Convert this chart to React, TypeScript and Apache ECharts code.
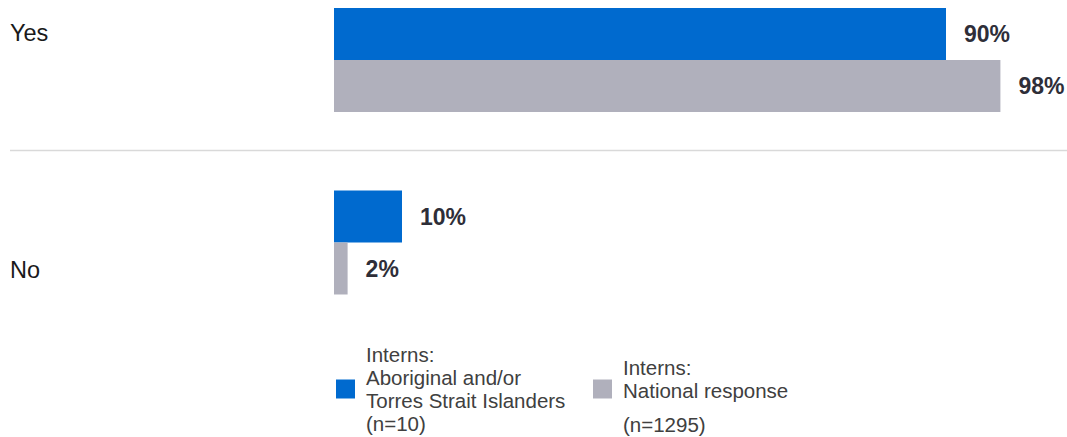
import React, { useEffect, useRef } from "react";
import * as echarts from "echarts";

const categories = ["Yes", "No"];
const seriesKeys = ["Aboriginal", "National"];
const aboriginalValues = [90, 10];
const nationalValues = [98, 2];
const legendTexts: Record<string, string> = {
  Aboriginal: "{a|Interns:}\n{a|Aboriginal and/or}\n{a|Torres Strait Islanders}\n{a|(n=10)}",
  National: "{t| }\n{a|Interns:}\n{a|National response}\n{s| }\n{a|(n=1295)}",
};

const BLUE = "#006ACF";
const GRAY = "#B0B0BC";
const FONT = "'Liberation Sans', Arial, Helvetica, sans-serif";

export default function App() {
  const ref = useRef<HTMLDivElement>(null);

  useEffect(() => {
    document.body.style.margin = "0";
    if (!ref.current) return;
    const chart = echarts.init(ref.current, undefined, { renderer: "svg" });

    const legendRich = {
      a: { fontSize: 20.5, lineHeight: 23, color: "#404040", fontFamily: FONT },
      s: { fontSize: 2, lineHeight: 11 },
      t: { fontSize: 2, lineHeight: 13 },
    };

    const valueLabel = {
      show: true,
      position: "right",
      distance: 18,
      formatter: "{c}%",
      fontSize: 23,
      fontWeight: "bold",
      color: "#2E2E38",
      fontFamily: FONT,
    };

    const catStyle = { fontSize: 23.5, color: "#1A1A1A", fontFamily: FONT };

    chart.setOption({
      animation: false,
      grid: { left: 334, right: 53, top: 60, height: 182.5, containLabel: false },
      xAxis: { type: "value", min: 0, max: 100, show: false },
      yAxis: {
        type: "category",
        data: categories,
        inverse: true,
        boundaryGap: false,
        axisLine: { show: false },
        axisTick: { show: false },
        splitLine: { show: false },
        axisLabel: {
          align: "left",
          margin: 324,
          ...catStyle,
          formatter: (v: string, i: number) => (i === 0 ? `{up|${v}}` : `{down|${v}}`),
          rich: {
            up: { ...catStyle, padding: [0, 0, 54, 0] },
            down: { ...catStyle, padding: [55, 0, 0, 0] },
          },
        },
      },
      legend: [
        {
          data: [seriesKeys[0]],
          left: 336,
          top: 344,
          padding: 0,
          itemWidth: 19,
          itemHeight: 19,
          icon: "rect",
          formatter: (n: string) => legendTexts[n],
          textStyle: { padding: [0, 0, 0, 6], rich: legendRich },
          selectedMode: false,
        },
        {
          data: [seriesKeys[1]],
          left: 593,
          top: 348,
          padding: 0,
          itemWidth: 19,
          itemHeight: 19,
          icon: "rect",
          formatter: (n: string) => legendTexts[n],
          textStyle: { padding: [0, 0, 0, 6], rich: legendRich },
          selectedMode: false,
        },
      ],
      graphic: [
        {
          type: "line",
          shape: { x1: 10, y1: 150.5, x2: 1067, y2: 150.5 },
          style: { stroke: "#D9D9D9", lineWidth: 1.5 },
          silent: true,
        },
      ],
      series: [
        {
          name: seriesKeys[0],
          type: "bar",
          data: aboriginalValues,
          barWidth: 52,
          barGap: "0%",
          itemStyle: { color: BLUE },
          label: valueLabel,
        },
        {
          name: seriesKeys[1],
          type: "bar",
          data: nationalValues,
          barWidth: 52,
          barGap: "0%",
          itemStyle: { color: GRAY },
          label: valueLabel,
        },
      ],
    });

    return () => chart.dispose();
  }, []);

  return <div ref={ref} style={{ width: 1067, height: 437 }} />;
}
